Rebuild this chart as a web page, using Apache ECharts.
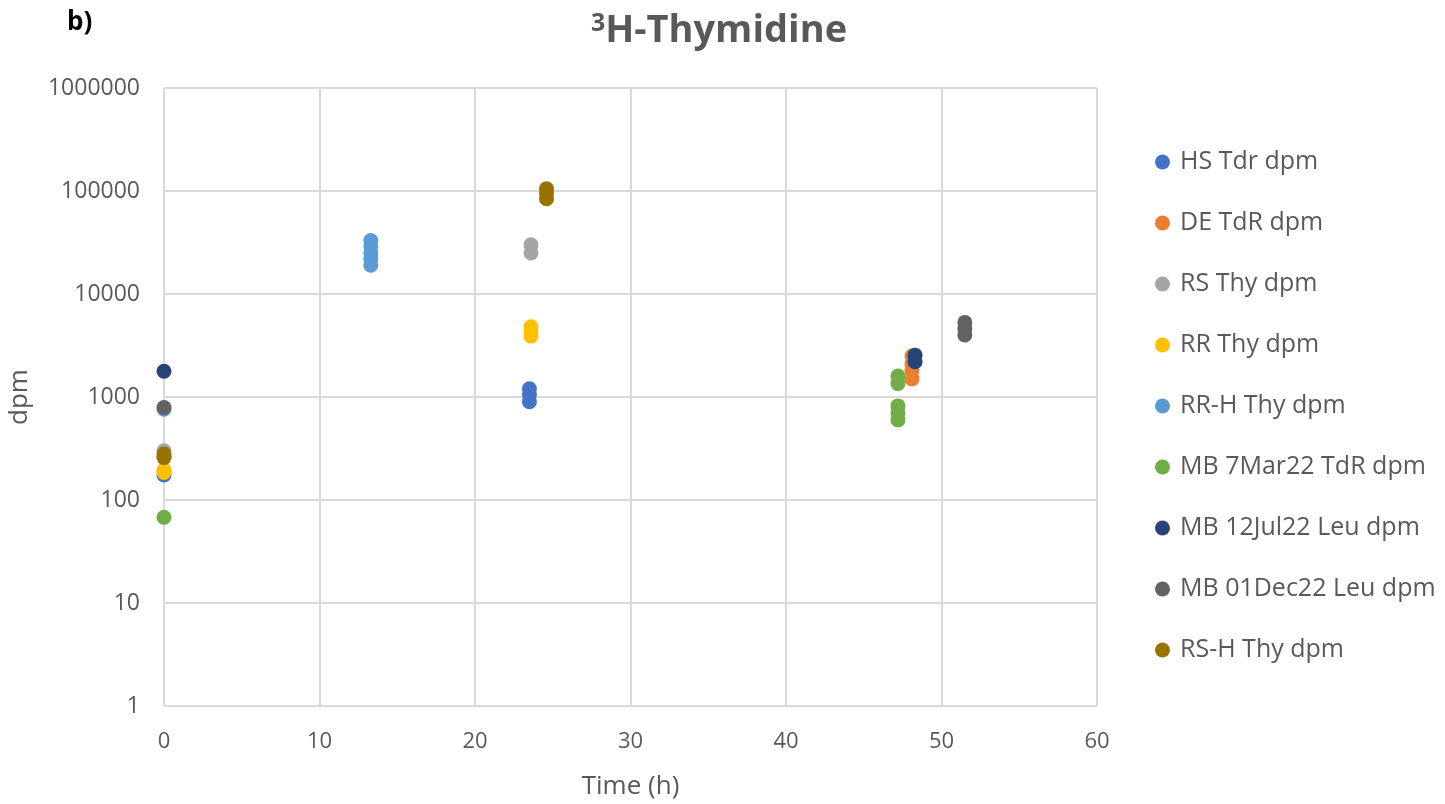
<!DOCTYPE html>
<html>
<head>
<meta charset="utf-8">
<script src="https://cdn.jsdelivr.net/npm/echarts@6/dist/echarts.min.js"></script>
<style>
html,body{margin:0;padding:0;background:#fff;}
#main{width:1445px;height:804px;}
</style>
</head>
<body>
<div id="main"></div>
<script>
// ---- data ----
var seriesNames = ["HS Tdr dpm","DE TdR dpm","RS Thy dpm","RR Thy dpm","RR-H Thy dpm","MB 7Mar22 TdR dpm","MB 12Jul22 Leu dpm","MB 01Dec22 Leu dpm","RS-H Thy dpm"];
var hsTime = [0, 23.5, 23.5, 23.5];
var hsDpm  = [175, 1200, 1050, 900];
var deTime = [0, 48.1, 48.1, 48.1, 48.1];
var deDpm  = [265, 2500, 2100, 1800, 1500];
var rsTime = [0, 23.6, 23.6];
var rsDpm  = [300, 30000, 25000];
var rrTime = [0, 0, 23.6, 23.6, 23.6];
var rrDpm  = [195, 185, 4800, 4300, 3900];
var rrhTime = [0, 13.3, 13.3, 13.3, 13.3, 13.3];
var rrhDpm  = [760, 33000, 29000, 25000, 22000, 19000];
var mbMarTime = [0, 47.2, 47.2, 47.2, 47.2, 47.2];
var mbMarDpm  = [68, 1600, 1350, 820, 700, 600];
var mbJulTime = [0, 48.3, 48.3];
var mbJulDpm  = [1780, 2550, 2200];
var mbDecTime = [0, 51.5, 51.5, 51.5];
var mbDecDpm  = [790, 5300, 4600, 4000];
var rshTime = [0, 0, 24.6, 24.6, 24.6];
var rshDpm  = [280, 258, 105000, 95000, 84000];
var colors = ["#4472C4","#ED7D31","#A5A5A5","#FFC000","#5B9BD5","#70AD47","#264478","#636363","#997300"];
var xTicks = [0,10,20,30,40,50,60];

var times = [hsTime, deTime, rsTime, rrTime, rrhTime, mbMarTime, mbJulTime, mbDecTime, rshTime];
var vals  = [hsDpm, deDpm, rsDpm, rrDpm, rrhDpm, mbMarDpm, mbJulDpm, mbDecDpm, rshDpm];

function pairs(t, v){ return t.map(function(x,i){ return [x, v[i]]; }); }

var series = seriesNames.map(function(n, i){
  return {
    name: n, type: 'scatter', symbol: 'circle', symbolSize: 15,
    itemStyle: {color: colors[i], opacity: 1},
    data: pairs(times[i], vals[i])
  };
});

var chart = echarts.init(document.getElementById('main'));
chart.setOption({
  animation: false,
  color: colors,
  title: [{
    text: '{sup|3}{b|H-Thymidine}',
    left: 714, top: 6, textAlign: 'center',
    textStyle: {
      rich: {
        sup: {fontSize: 25, fontWeight: 'bold', color: '#595959', fontFamily: 'Open Sans', verticalAlign: 'top', padding:[0,0,16,0]},
        b: {fontSize: 38, fontWeight: 'bold', color: '#595959', fontFamily: 'Open Sans'}
      }
    }
  },{
    text: 'b)', left: 62, top: 5,
    textStyle: {fontSize: 26, fontWeight: 'bold', color: '#000', fontFamily: 'Open Sans'}
  }],
  legend: {
    orient: 'vertical', left: 1150, top: 143, itemGap: 33,
    icon: 'circle', itemWidth: 15, itemHeight: 15,
    textStyle: {fontSize: 25, lineHeight: 28, color: '#595959', fontFamily: 'Open Sans', padding: [0,0,0,5]},
    data: seriesNames
  },
  grid: {left: 164, right: 348, top: 88, bottom: 98, containLabel: false, outerBoundsMode: 'none'},
  xAxis: {
    type: 'value', min: 0, max: 60, interval: 10,
    name: 'Time (h)', nameLocation: 'middle', nameGap: 68,
    nameTextStyle: {fontSize: 26, color: '#595959', fontFamily: 'Open Sans'},
    axisLine: {show: false}, axisTick: {show: false},
    axisLabel: {fontSize: 22, color: '#595959', fontFamily: 'Open Sans', margin: 25,
      formatter: function(v){ return xTicks.indexOf(v) >= 0 ? String(v) : ''; }},
    splitLine: {show: true, lineStyle: {color: '#D9D9D9', width: 2}}
  },
  yAxis: {
    type: 'log', logBase: 10, min: 1, max: 1000000,
    name: 'dpm', nameLocation: 'middle', nameGap: 131, nameRotate: 90,
    nameTextStyle: {fontSize: 26, color: '#595959', fontFamily: 'Open Sans'},
    axisLine: {show: false}, axisTick: {show: false},
    axisLabel: {fontSize: 23, color: '#595959', fontFamily: 'Open Sans', margin: 24,
      formatter: function(v){ return String(Math.round(v)); }},
    splitLine: {show: true, lineStyle: {color: '#D9D9D9', width: 2}}
  },
  series: series
});
</script>
</body>
</html>
